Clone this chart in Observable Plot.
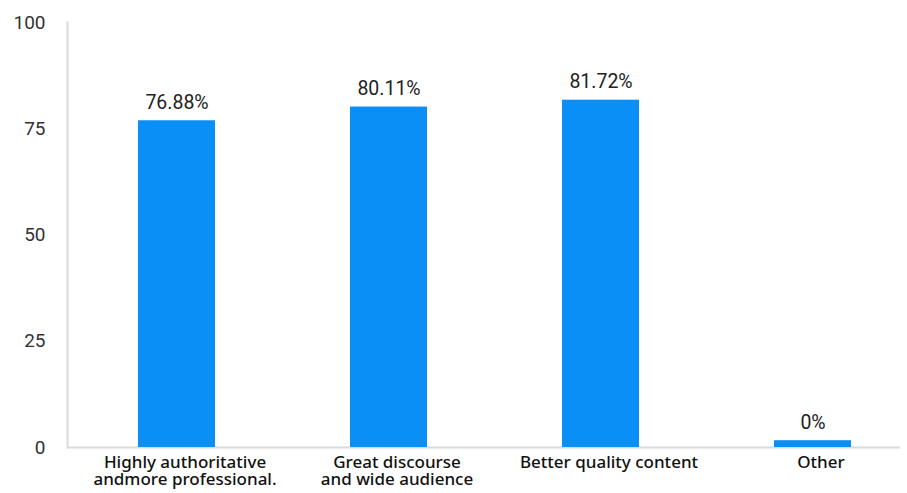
<!DOCTYPE html>
<html>
<head>
<meta charset="utf-8">
<script src="https://cdn.jsdelivr.net/npm/d3@7"></script>
<script src="https://cdn.jsdelivr.net/npm/@observablehq/plot@0.6"></script>
<style>
  html, body { margin: 0; padding: 0; background: #fff; }
  #chart { width: 907px; height: 493px; }
</style>
</head>
<body>
<div id="chart"></div>
<script>
const categories = [
  "Highly authoritative\nandmore professional.",
  "Great discourse\nand wide audience",
  "Better quality content",
  "Other"
];
// bar heights as drawn (the "Other" bar is a thin sliver)
const values = [76.88, 80.11, 81.72, 1.6];
const valueLabels = ["76.88%", "80.11%", "81.72%", "0%"];
const yTicks = [0, 25, 50, 75, 100];

const data = categories.map((c, i) => ({cat: c, value: values[i], label: valueLabels[i]}));

const chart = Plot.plot({
  width: 907,
  height: 493,
  marginTop: 22,
  marginBottom: 46,
  marginLeft: 67,
  marginRight: 7,
  style: {background: "#fff", overflow: "visible"},
  x: {domain: categories, range: [69, 919], paddingInner: 0.638, paddingOuter: 0.319, axis: null},
  y: {domain: [0, 100], axis: null},
  marks: [
    Plot.ruleY([0], {stroke: "#d5dbe0", strokeWidth: 2}),
    Plot.frame({anchor: "left", stroke: "#d5dbe0", strokeWidth: 2}),
    Plot.axisY(yTicks, {
      tickSize: 0, tickPadding: 22, label: null,
      fontSize: 19, fontFamily: "Roboto", fill: "#333"
    }),
    Plot.barY(data, {x: "cat", y: "value", fill: "#0a8ff7"}),
    Plot.text(data, {
      x: "cat", y: "value", text: "label", dy: -18,
      fontSize: 19.5, fontFamily: "Roboto", fill: "#222"
    }),
    Plot.axisX({
      tickSize: 0, tickPadding: 8, label: null, dx: 8,
      fontSize: 17, fontFamily: "Noto Sans", fontWeight: 500, fill: "#111", lineHeight: 1
    })
  ]
});
document.getElementById("chart").appendChild(chart);
</script>
</body>
</html>
